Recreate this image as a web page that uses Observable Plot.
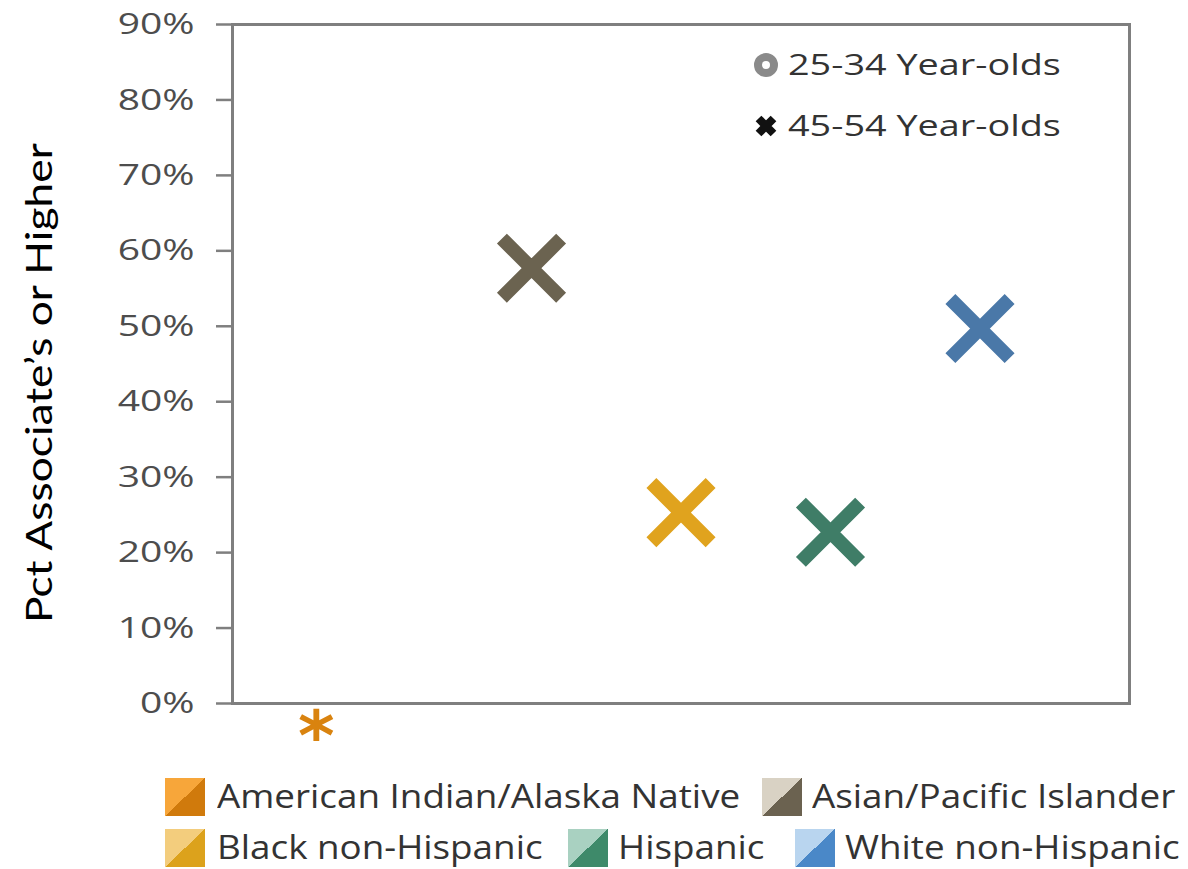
<!DOCTYPE html>
<html><head><meta charset="utf-8">
<script src="https://cdn.jsdelivr.net/npm/d3@7"></script>
<script src="https://cdn.jsdelivr.net/npm/@observablehq/plot@0.6"></script>
<style>
body{margin:0;background:#fff;}
#wrap{position:relative;width:1188px;height:869px;overflow:hidden;background:#fff;}
#wrap svg{position:absolute;left:0;top:0;}
.lg{position:absolute;font-family:"Open Sans";color:#333;white-space:nowrap;transform-origin:left center;line-height:1;}
.sw{position:absolute;width:40px;height:38px;}
.ic{position:absolute;}
</style></head><body><div id="wrap"></div>
<script>
const categories = ["American Indian/Alaska Native","Asian/Pacific Islander","Black non-Hispanic","Hispanic","White non-Hispanic"];
const xPositions = [0.56, 2, 3, 4, 5];
const pct45 = [null, 0.577, 0.253, 0.227, 0.497];
const markerColors = ["#d9830f","#6b6350","#e0a31e","#3f7d67","#4a78a8"];
const swatchLight = ["#f7a63a","#d9d2c4","#f3cd7d","#a9d1c1","#b9d5ef"];
const swatchDark = ["#d07a0c","#6b6250","#dca21c","#3e8a6a","#4a88c8"];
const yTicks = [0,0.1,0.2,0.3,0.4,0.5,0.6,0.7,0.8,0.9];
const ageGroups = ["25-34 Year-olds","45-54 Year-olds"];
const yLabel = "Pct Associate’s or Higher";

const data = categories.map((c,i)=>({category:c, x:xPositions[i], y:pct45[i]}));
const wrap = document.getElementById("wrap");

const plot = Plot.plot({
  width:1188, height:755,
  marginTop:24, marginBottom:52, marginLeft:232, marginRight:59,
  style:{fontFamily:"Open Sans", color:"#4d4d4d", background:"transparent", overflow:"visible"},
  x:{domain:[0,6], axis:null},
  y:{domain:[0,0.9], axis:null},
  color:{domain:categories, range:markerColors},
  marks:[
    Plot.frame({stroke:"#7f7f7f", strokeWidth:3}),
    Plot.axisY({ticks:yTicks, tickFormat:d3.format(".0%"), tickSize:16, tickPadding:22, fontSize:30, stroke:"#7f7f7f", strokeWidth:2.5, label:null}),
    Plot.dot(data.filter(d=>d.y!=null), {x:"x", y:"y", symbol:"times", r:27, stroke:"category", strokeWidth:14}),
    Plot.text(data.filter(d=>d.y==null), {x:"x", y:()=>0, text:()=>"*", fill:"category", fontSize:70, fontWeight:"bold", fontFamily:"DejaVu Sans", dy:34}),
    Plot.text([yLabel], {frameAnchor:"left", text:d=>d, rotate:-90, textAnchor:"start", dx:-192, dy:259, fontSize:36, fontFamily:"Lato", fill:"black"})
  ]
});
wrap.appendChild(plot);

d3.select(plot).selectAll('g[aria-label="y-axis tick label"] text').each(function(){
  const w = this.getComputedTextLength();
  this.setAttribute("textLength", w*1.3);
  this.setAttribute("lengthAdjust","spacingAndGlyphs");
});
d3.select(plot).selectAll('text').filter(function(){ return this.textContent === yLabel; }).each(function(){
  const w = this.getComputedTextLength();
  const tr = this.getAttribute("transform") || "";
  this.setAttribute("transform", tr + ` scale(${480 / w},1)`);
});

// in-plot legend (age groups)
const topIcons = [
  '<svg width="30" height="30" viewBox="-15 -15 30 30"><circle r="8" fill="#fff" stroke="#8a8a8a" stroke-width="8"/></svg>',
  '<svg width="30" height="30" viewBox="-15 -15 30 30"><path d="M-7.5,-7.5L7.5,7.5M-7.5,7.5L7.5,-7.5" stroke="#111" stroke-width="8"/></svg>'
];
const topRows = [65, 126];
ageGroups.forEach((g,i)=>{
  const ic = document.createElement("div");
  ic.className="ic"; ic.style.left=(766-15)+"px"; ic.style.top=(topRows[i]-15)+"px";
  ic.innerHTML = topIcons[i]; wrap.appendChild(ic);
  const t = document.createElement("div");
  t.className="lg"; t.textContent=g; t.style.fontSize="30px";
  t.style.left="788px"; t.style.top=(topRows[i]-16)+"px";
  t.style.transform="scaleX(1.26)";
  wrap.appendChild(t);
});

// bottom legend (categories)
const legendSlots = [{sw:165,tx:217,row:0},{sw:762,tx:812,row:0},{sw:165,tx:217,row:1},{sw:568,tx:618,row:1},{sw:795,tx:845,row:1}];
const rowY = [797, 848];
categories.forEach((c,i)=>{
  const s = legendSlots[i];
  const sw = document.createElement("div");
  sw.className="sw"; sw.style.left=s.sw+"px"; sw.style.top=(rowY[s.row]-19)+"px";
  sw.style.background=`linear-gradient(to bottom right, ${swatchLight[i]} 50%, ${swatchDark[i]} 50%)`;
  wrap.appendChild(sw);
  const t = document.createElement("div");
  t.className="lg"; t.textContent=c; t.style.fontSize="32px";
  t.style.left=s.tx+"px"; t.style.top=(rowY[s.row]-17)+"px";
  t.style.transform="scaleX(1.15)";
  wrap.appendChild(t);
});
</script></body></html>
